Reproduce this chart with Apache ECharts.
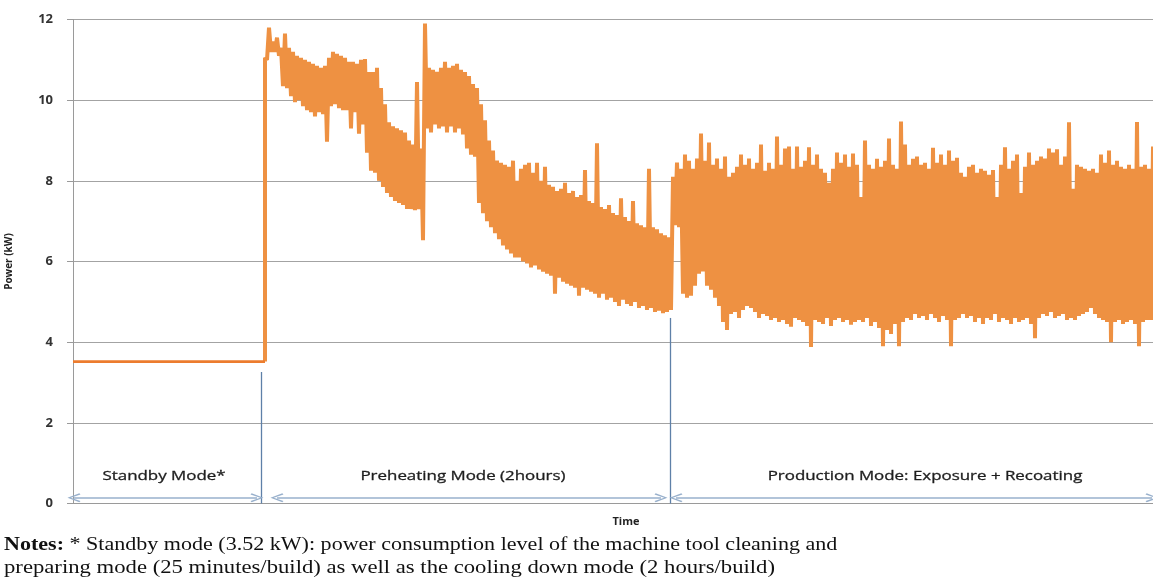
<!DOCTYPE html>
<html><head><meta charset="utf-8">
<script src="https://cdn.jsdelivr.net/npm/echarts@6/dist/echarts.min.js"></script>
<style>html,body{margin:0;padding:0;background:#fff;}#c{width:1153px;height:585px;}</style>
</head><body><div id="c"></div>
<script>
// Y axis ticks
const yTicks = [0, 2, 4, 6, 8, 10, 12];
// Standby mode (time units, kW)
const standbyTime = [0, 192];
const standbyPower = [3.52, 3.52];
// Preheating mode: peaks / troughs every 4 time units starting at t=192
const preheatStart = 192;
const preheatHigh = [11.05,11.8,11.45,11.55,11.3,11.65,11.3,11.2,11.1,11.05,11.0,10.95,10.9,10.85,10.8,10.85,11.05,11.2,11.15,11.1,
  11.05,10.95,10.95,10.9,11.0,11.02,10.7,10.7,10.8,10.3,9.9,9.45,9.35,9.3,9.25,9.2,9.0,8.9,10.45,8.8,
  11.9,10.8,10.75,10.7,10.8,10.95,10.8,10.85,10.9,10.75,10.7,10.6,10.4,10.3,9.9,9.5,9.0,8.75,8.5,8.45,
  8.4,8.35,8.5,8.0,8.3,8.4,8.45,8.2,8.45,8.0,8.35,7.9,7.85,7.75,7.8,7.95,7.7,7.75,7.6,7.65,
  8.27,7.5,7.45,8.93,7.35,7.3,7.4,7.2,7.15,7.57,7.1,7.0,7.5,6.95,6.9,6.85,8.3,6.85,6.8,6.7,6.65,6.6];
const preheatLow = [11.0,11.2,11.2,11.1,10.35,10.3,10.1,9.95,10.0,9.85,9.75,9.7,9.6,9.7,9.65,8.97,9.85,9.9,9.8,9.75,
  9.75,9.3,9.7,9.17,9.4,8.7,8.25,8.2,8.0,7.85,7.7,7.6,7.5,7.45,7.4,7.3,7.3,7.27,7.3,6.53,
  9.3,9.2,9.4,9.3,9.35,9.2,9.35,9.2,9.3,9.15,8.8,8.65,8.6,7.45,7.2,7.0,6.85,6.7,6.55,6.4,
  6.3,6.2,6.1,6.1,6.0,5.95,5.85,5.9,5.8,5.75,5.7,5.65,5.2,5.6,5.5,5.45,5.4,5.35,5.15,5.35,
  5.3,5.25,5.2,5.1,5.2,5.05,5.1,5.0,4.9,5.05,4.95,4.9,5.0,4.85,4.9,4.8,4.85,4.75,4.78,4.72,4.75,4.8];
// Production mode: peaks / troughs every 4 time units starting at t=600
const productionStart = 600;
const productionHigh = [8.1,8.45,8.3,8.65,8.5,8.3,8.55,9.17,8.5,8.95,8.4,8.55,8.3,8.6,8.1,8.2,8.35,8.65,8.4,8.55,
  8.3,8.45,8.9,8.25,8.45,8.3,9.1,8.4,8.8,8.85,8.3,8.85,8.35,8.5,8.83,8.4,8.65,8.3,8.2,7.95,
  8.3,8.7,8.45,8.65,8.35,8.68,8.4,7.6,9.0,8.4,8.3,8.55,8.35,8.5,9.05,8.4,8.3,9.47,8.9,8.4,
  8.55,8.6,8.4,8.45,8.3,8.82,8.45,8.65,8.4,8.75,8.5,8.57,8.2,8.1,8.35,8.4,8.2,8.3,8.25,8.15,
  8.27,7.6,8.4,8.83,8.3,8.5,8.65,7.7,8.35,8.7,8.4,8.5,8.6,8.55,8.8,8.7,8.78,8.4,8.6,9.45,
  7.8,8.4,8.35,8.3,8.25,8.3,8.2,8.65,8.45,8.75,8.4,8.5,8.35,8.3,8.4,8.3,9.46,8.35,8.4,8.3,8.85];
const productionLow = [6.9,6.85,5.2,5.1,5.15,5.4,5.7,5.75,5.4,5.3,5.1,4.9,4.5,4.3,4.7,4.75,4.6,4.8,4.9,4.85,
  4.75,4.6,4.7,4.65,4.55,4.6,4.5,4.55,4.45,4.38,4.6,4.55,4.5,4.4,3.88,4.55,4.5,4.45,4.6,4.4,
  4.55,4.6,4.5,4.55,4.43,4.5,4.55,4.5,4.6,4.4,4.5,4.35,3.9,4.3,4.2,4.45,3.9,4.5,4.6,4.55,
  4.7,4.6,4.65,4.55,4.7,4.6,4.5,4.65,4.55,3.9,4.55,4.6,4.7,4.6,4.65,4.5,4.6,4.45,4.6,4.55,
  4.7,4.5,4.6,4.55,4.45,4.6,4.5,4.55,4.6,4.45,4.1,4.6,4.7,4.65,4.75,4.6,4.65,4.7,4.55,4.6,
  4.55,4.65,4.7,4.75,4.85,4.7,4.6,4.55,4.5,4.0,4.5,4.55,4.45,4.5,4.55,4.45,3.9,4.5,4.55,4.55,4.5];
// Mode annotations (time units / kW)
const modeNames = ['Standby Mode*', 'Preheating Mode (2hours)', 'Production Mode: Exposure + Recoating'];
const modeArrows = [[1, 184], [204, 588], [603, 1079]];
const modeLabelCenters = [91, 390, 852];
const modeLabelLevel = 0.68;
const modeBoundaries = [[188.5, 3.26], [597, 4.6]];

function zig(start, hi, lo) {
  const out = [];
  for (let i = 0; i < hi.length; i++) {
    out.push([start + 4 * i, hi[i]]);
    out.push([start + 4 * i + 2, lo[i]]);
  }
  return out;
}
const mainData = [[standbyTime[1], standbyPower[1]]]
  .concat(zig(preheatStart, preheatHigh, preheatLow))
  .concat(zig(productionStart, productionHigh, productionLow));

const chev = 'path://M5,0 L10,10 L8.6,11 L5,2.8 L1.4,11 L0,10 Z';
const arrowY = 0.14;

const chart = echarts.init(document.getElementById('c'), null, {renderer: 'canvas'});
chart.setOption({
  animation: false,
  grid: {left: 73, right: 0, top: 19.5, bottom: 81.5, containLabel: false, outerBoundsMode: 'none'},
  xAxis: {
    type: 'value', min: 0, max: 1080,
    axisLine: {show: true, lineStyle: {color: '#9a9a9a', width: 1}},
    axisTick: {show: false}, axisLabel: {show: false}, splitLine: {show: false}
  },
  yAxis: {
    type: 'value', min: yTicks[0], max: yTicks[yTicks.length - 1], interval: 2,
    name: 'Power (kW)', nameLocation: 'middle', nameRotate: 90, nameGap: 59,
    nameTextStyle: {fontFamily: 'Open Sans', fontSize: 10, fontWeight: 'bold', color: '#222'},
    axisLine: {show: true, lineStyle: {color: '#9a9a9a', width: 1}},
    axisTick: {show: true, length: 6, lineStyle: {color: '#9a9a9a'}},
    axisLabel: {margin: 20, fontFamily: 'Open Sans', fontSize: 13, fontWeight: 'bold', color: '#333'},
    splitLine: {show: true, lineStyle: {color: '#a3a3a3', width: 1.2}}
  },
  series: [
    {
      type: 'line', data: mainData, showSymbol: false, symbol: 'none', sampling: null,
      lineStyle: {color: '#EE9142', width: 4, join: 'bevel', cap: 'butt'}, z: 3,
      markLine: {
        silent: true, symbol: ['none', 'none'], animation: false,
        lineStyle: {color: '#5E80A8', width: 1.3, type: 'solid'},
        label: {show: false},
        data: modeBoundaries.map(b => [{coord: [b[0], 0]}, {coord: [b[0], b[1]]}])
      }
    },
    {
      type: 'line', data: standbyTime.map((t, i) => [t, standbyPower[i]]),
      showSymbol: false, symbol: 'none', lineStyle: {color: '#EC7C2E', width: 2.8}, z: 4,
      markLine: {
        silent: true, symbol: [chev, chev], symbolSize: [9, 13], animation: false,
        lineStyle: {color: '#98B0CC', width: 1.6, type: 'solid'},
        label: {show: false},
        data: modeArrows.map(a => [{coord: [a[0], arrowY]}, {coord: [a[1], arrowY]}])
      }
    }
  ]
});

const labelGraphics = modeNames.map((name, i) => {
  const p = chart.convertToPixel({gridIndex: 0}, [modeLabelCenters[i], modeLabelLevel]);
  return {type: 'text', x: p[0], y: p[1], scaleX: 1.3, silent: true,
    style: {text: name, font: '13px "Open Sans"', fill: '#1e1e1e', stroke: '#1e1e1e', lineWidth: 0.3,
      align: 'center', verticalAlign: 'middle', textAlign: 'center', textVerticalAlign: 'middle'}};
});
chart.setOption({
  graphic: labelGraphics.concat([
    {type: 'text', x: 626, y: 522, style: {text: 'Time', font: 'bold 11px "Open Sans"', fill: '#222',
      align: 'center', verticalAlign: 'middle', textAlign: 'center', textVerticalAlign: 'middle'}},
    {type: 'text', x: 4, y: 545, scaleX: 1.225, style: {
      text: '{b|Notes:} * Standby mode (3.52 kW): power consumption level of the machine tool cleaning and',
      font: '18px "Liberation Serif"', fill: '#111', verticalAlign: 'middle', textVerticalAlign: 'middle',
      rich: {b: {font: 'bold 18px "Liberation Serif"', fill: '#111'}}}},
    {type: 'text', x: 4, y: 568, scaleX: 1.26, style: {
      text: 'preparing mode (25 minutes/build) as well as the cooling down mode (2 hours/build)',
      font: '18px "Liberation Serif"', fill: '#111', verticalAlign: 'middle', textVerticalAlign: 'middle'}}
  ])
});
</script></body></html>
